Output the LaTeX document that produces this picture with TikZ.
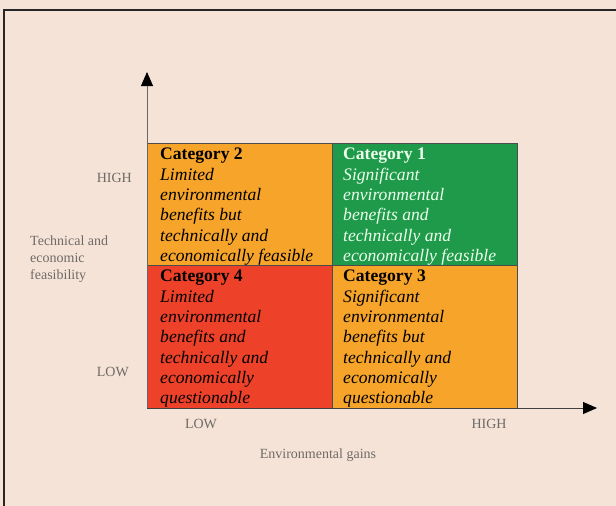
\documentclass[tikz,border=0pt]{standalone}
\usepackage{fontspec}
\setmainfont{Liberation Serif}
\usetikzlibrary{arrows.meta}
\definecolor{paper}{HTML}{F5E3D7}
\definecolor{catorange}{HTML}{F7A52A}
\definecolor{catgreen}{HTML}{1F9A4A}
\definecolor{catred}{HTML}{EE4129}
\definecolor{axisgray}{HTML}{6E6A66}

\begin{document}
\begin{tikzpicture}[x=1pt,y=-1pt,>={Triangle[length=14pt,width=12pt,color=black]},
  cell/.style={rectangle,draw=black!70,line width=0.9pt,minimum width=185pt,anchor=north west,inner sep=0pt},
  cell text/.style={anchor=north west,align=left,inner sep=0pt,font=\fontsize{17.6}{20.3}\selectfont},
  axis label/.style={text=axisgray,inner sep=0pt,font=\fontsize{14}{17}\selectfont}]

  \useasboundingbox (0,0) rectangle (616,506);
  \fill[paper] (0,0) rectangle (616,506);
  \draw[line width=1.5pt,black!85] (4,530) -- (4,10) -- (640,10);

  % quadrants
  \node[cell,fill=catorange,minimum height=122pt] (cat2) at (147,143) {};
  \node[cell,fill=catgreen,minimum height=122pt] (cat1) at (332,143) {};
  \node[cell,fill=catred,minimum height=143pt] (cat4) at (147,265) {};
  \node[cell,fill=catorange,minimum height=143pt] (cat3) at (332,265) {};

  \node[cell text] (t2) at ([shift={(13,5)}]cat2.north west)
    {\textbf{Category 2}\\\textit{Limited}\\\textit{environmental}\\\textit{benefits but}\\\textit{technically and}\\\textit{economically feasible}};
  \node[cell text,text=white!92!green] (t1) at ([shift={(11,5)}]cat1.north west)
    {\textbf{Category 1}\\\textit{Significant}\\\textit{environmental}\\\textit{benefits and}\\\textit{technically and}\\\textit{economically feasible}};
  \node[cell text] (t4) at ([shift={(13,5)}]cat4.north west)
    {\textbf{Category 4}\\\textit{Limited}\\\textit{environmental}\\\textit{benefits and}\\\textit{technically and}\\\textit{economically}\\\textit{questionable}};
  \node[cell text] (t3) at ([shift={(11,5)}]cat3.north west)
    {\textbf{Category 3}\\\textit{Significant}\\\textit{environmental}\\\textit{benefits but}\\\textit{technically and}\\\textit{economically}\\\textit{questionable}};

  % axes
  \coordinate (origin) at (147,408);
  \coordinate (ytip) at (147,72);
  \coordinate (xtip) at (597,408);
  \draw[->,black!60,line width=0.9pt] (origin) -- (ytip);
  \draw[->,black!75,line width=0.9pt] (origin) -- (xtip);

  \node[axis label,anchor=east] (yhigh) at (132,178) {HIGH};
  \node[axis label,anchor=east] (ylow) at (129,372) {LOW};
  \node[axis label] (xlow) at (201,424) {LOW};
  \node[axis label] (xhigh) at (489,424) {HIGH};
  \node[axis label,anchor=north west,align=left] (ylabel) at (30,236)
    {Technical and\\economic\\feasibility};
  \node[axis label] (xlabel) at (318,455) {Environmental gains};
\end{tikzpicture}
\end{document}
